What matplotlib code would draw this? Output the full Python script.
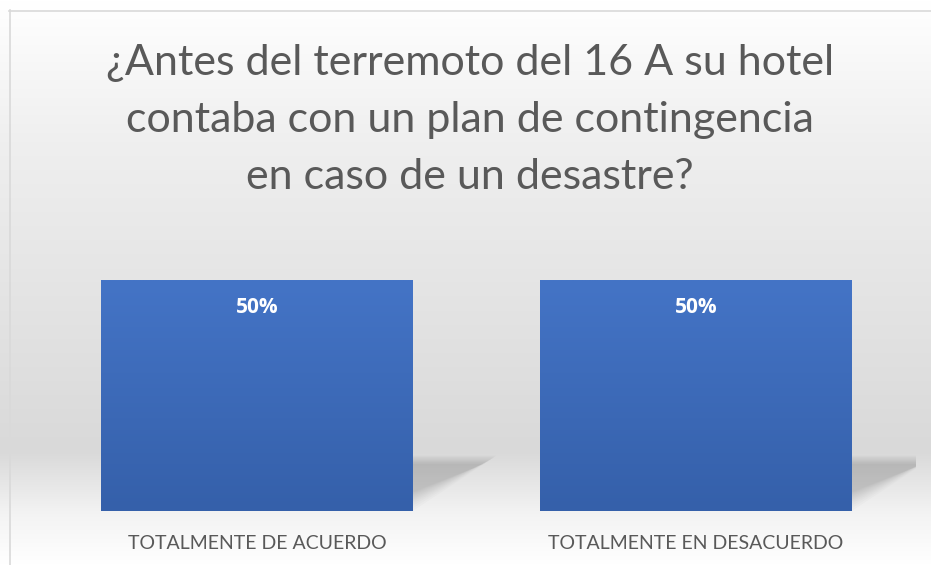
import numpy as np
import matplotlib
matplotlib.use("Agg")
import matplotlib.pyplot as plt
from matplotlib.colors import LinearSegmentedColormap
from matplotlib.patches import Polygon

plt.rcParams['font.family'] = ['Lato', 'DejaVu Sans']

titulo = "¿Antes del terremoto del 16 A su hotel\ncontaba con un plan de contingencia\nen caso de un desastre?"
categorias = ["TOTALMENTE DE ACUERDO", "TOTALMENTE EN DESACUERDO"]
valores = [0.5, 0.5]
etiquetas = ["50%", "50%"]

W, H = 931, 565
fig = plt.figure(figsize=(W / 100, H / 100), dpi=100)

# fondo con degradado vertical
bg = fig.add_axes([0, 0, 1, 1], zorder=0)
bg_cmap = LinearSegmentedColormap.from_list(
    "bg", [(0.0, "#ffffff"), (0.25, "#efefef"), (0.80, "#d9d9d9"),
           (0.91, "#f3f3f3"), (1.0, "#ffffff")])
grad = np.linspace(0, 1, 256).reshape(-1, 1)
bg.imshow(grad, aspect="auto", cmap=bg_cmap, extent=[0, W, H, 0])
bg.set_xlim(0, W)
bg.set_ylim(H, 0)
bg.plot([9, W], [10.5, 10.5], color="#d9d9d9", lw=1.2)
bg.plot([9.5, 9.5], [10, H], color="#d9d9d9", lw=1.2)
bg.axis("off")

# area del grafico
left, right = 37.5, 915.5
bottom_px, top_px = 511, 257
ax = fig.add_axes([left / W, 1 - bottom_px / H, (right - left) / W, (bottom_px - top_px) / H], zorder=1)
ax.patch.set_alpha(0)
x = np.arange(len(categorias))
ancho = 0.71
barras = ax.bar(x, valores, width=ancho, color="#4472c4", zorder=3)
ax.set_xlim(-0.5, len(categorias) - 0.5)
ax.set_ylim(0, 0.55)

# sombra en perspectiva
for b in barras:
    x0 = b.get_x()
    x1 = x0 + b.get_width()
    for i in range(12):
        s = i / 12.0
        dx = 0.19 - 0.03 * s
        ht = 0.12 - 0.02 * s
        poly = Polygon([(x0 + 0.15, 0), (x1 - 0.01 * i, 0), (x1 + dx, ht), (x0 + dx + 0.15, ht)],
                       closed=True, facecolor="#7f7f7f", edgecolor="none", alpha=0.035, zorder=2)
        ax.add_patch(poly)

# degradado de las barras
bar_cmap = LinearSegmentedColormap.from_list("bar", ["#3560aa", "#4474c6"])
for b in barras:
    x0 = b.get_x()
    im = ax.imshow(np.linspace(0, 1, 100).reshape(-1, 1), cmap=bar_cmap, aspect="auto",
                   origin="lower", extent=[x0, x0 + b.get_width(), 0, b.get_height()], zorder=4)
    im.set_clip_path(b)

for xi, v, t in zip(x, valores, etiquetas):
    ax.annotate(t, (xi, v), xytext=(0, -20), textcoords="offset points", ha="center", va="center",
                color="white", fontsize=15, fontweight="bold", family=["Open Sans", "DejaVu Sans"],
                zorder=5)

ax.set_xticks(x)
ax.set_xticklabels(categorias, fontsize=14, color="#595959")
ax.tick_params(axis="x", length=0, pad=17)
ax.set_yticks([])
for sp in ax.spines.values():
    sp.set_visible(False)

fig.text(470 / W, 1 - 44 / H, titulo, ha="center", va="top", fontsize=31,
         color="#595959", linespacing=1.62)

fig.savefig("out.png", dpi=100)
